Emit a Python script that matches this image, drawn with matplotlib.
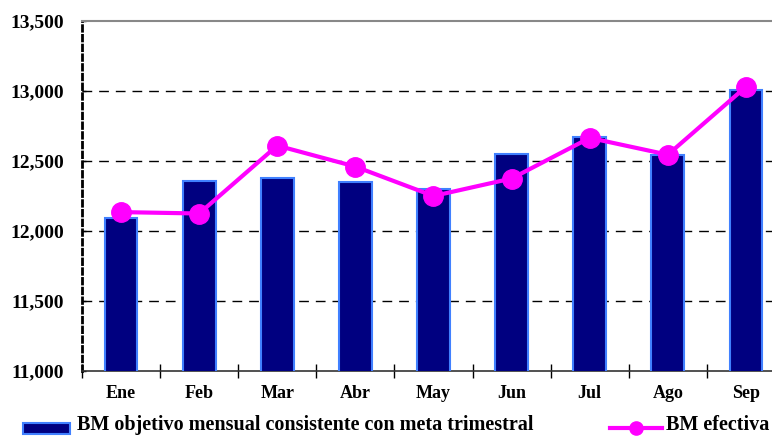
import matplotlib.pyplot as plt
import numpy as np
from matplotlib.ticker import FuncFormatter
from matplotlib.lines import Line2D
from matplotlib.patches import Rectangle

# Datos
meses = ["Ene", "Feb", "Mar", "Abr", "May", "Jun", "Jul", "Ago", "Sep"]
bm_objetivo = [12090, 12360, 12380, 12350, 12300, 12550, 12670, 12545, 13005]
bm_efectiva = [12135, 12125, 12610, 12460, 12250, 12375, 12665, 12545, 13030]
etiquetas = ["BM objetivo mensual consistente con meta trimestral", "BM efectiva"]

plt.rcParams['font.family'] = ['Liberation Serif', 'DejaVu Serif']
plt.rcParams['font.weight'] = 'bold'

W, H = 772, 436
fig = plt.figure(figsize=(W / 100, H / 100), dpi=100)
ax = fig.add_axes([82/W, 65/H, 703/W, 350/H])

x = np.arange(len(meses))

# Barras
ax.bar(x, bm_objetivo, width=0.42, color="#000080", edgecolor="#4080ff",
       linewidth=1.5, zorder=3)

# Linea
ax.plot(x, bm_efectiva, color="#ff00ff", linewidth=3, marker="o",
        markersize=14, zorder=4)

ax.set_ylim(11000, 13500)
ax.set_xlim(-0.5, len(meses) - 0.5)
ax.set_yticks(np.arange(11000, 13501, 500))
ax.yaxis.set_major_formatter(FuncFormatter(lambda v, p: f"{int(v):,}"))

# Rejilla
for v in [11500, 12000, 12500, 13000]:
    ax.axhline(v, color="black", linewidth=1, linestyle=(0, (7, 5)), zorder=1)

# Ejes
ax.spines["right"].set_visible(False)
ax.spines["top"].set_color("#888888")
ax.spines["top"].set_linewidth(1.5)
ax.spines["bottom"].set_color("#333333")
ax.spines["bottom"].set_linewidth(1.2)
ax.spines["left"].set_linestyle((0, (2, 1.5)))
ax.spines["left"].set_linewidth(2)

ax.set_xticks(np.arange(-0.5, len(meses), 1))
ax.set_xticklabels([])
ax.set_xticks(x, minor=True)
ax.set_xticklabels(meses, minor=True, fontsize=13, fontweight="bold")
ax.tick_params(axis="x", which="major", direction="inout", length=10, width=1)
ax.tick_params(axis="x", which="minor", length=0, pad=10)
ax.tick_params(axis="y", direction="in", length=3, width=1, labelsize=14, pad=13)
for lab in ax.get_yticklabels():
    lab.set_fontweight("bold")

# Leyenda (manual)
yl = (H - 428) / H
yb = (H - 430) / H
fig.add_artist(Rectangle((23/W, (H - 434)/H), 47/W, 11/H, transform=fig.transFigure,
                         facecolor="#000080", edgecolor="#4080ff", linewidth=1.5))
fig.text(77/W, yb, etiquetas[0], fontsize=14.5, fontweight="bold",
         va="baseline", ha="left")
fig.add_artist(Line2D([610/W, 662/W], [yl, yl], transform=fig.transFigure,
                      color="#ff00ff", linewidth=3))
fig.add_artist(Line2D([636/W], [yl], transform=fig.transFigure,
                      color="#ff00ff", marker="o", markersize=9.5, linestyle="none"))
fig.text(666/W, yb, etiquetas[1], fontsize=14.5, fontweight="bold",
         va="baseline", ha="left")

fig.savefig("out.png", dpi=100)
